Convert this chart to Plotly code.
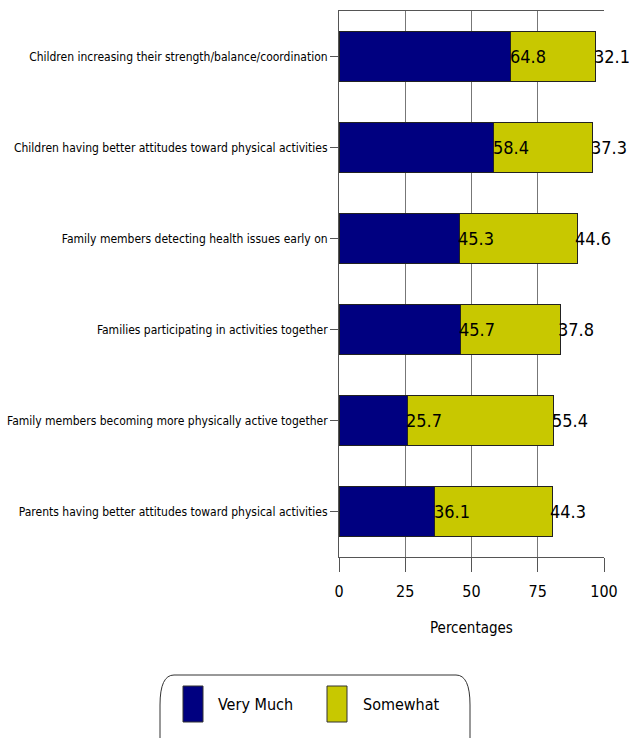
import plotly.graph_objects as go

categories = [
    "Children increasing their strength/balance/coordination",
    "Children having better attitudes toward physical activities",
    "Family members detecting health issues early on",
    "Families participating in activities together",
    "Family members becoming more physically active together",
    "Parents having better attitudes toward physical activities",
]
very_much = [64.8, 58.4, 45.3, 45.7, 25.7, 36.1]
somewhat = [32.1, 37.3, 44.6, 37.8, 55.4, 44.3]
series_names = ["Very Much", "Somewhat"]
x_ticks = [0, 25, 50, 75, 100]
x_title = "Percentages"

NAVY = "#000080"
OLIVE = "#C8C800"
FONT = "DejaVu Sans Condensed, Liberation Sans Narrow, sans-serif"

W, H = 629, 738
# plot area in page pixels
L, R, T, B = 339, 604, 11, 557


def px(x):
    return (x - L) / (R - L)


def py(y):
    return (B - y) / (B - T)


fig = go.Figure()
fig.add_trace(go.Bar(y=categories, x=very_much, orientation="h", name=series_names[0],
                     marker=dict(color=NAVY, line=dict(color="#222222", width=1)),
                     showlegend=False, hoverinfo="x+y"))
fig.add_trace(go.Bar(y=categories, x=somewhat, orientation="h", name=series_names[1],
                     marker=dict(color=OLIVE, line=dict(color="#222222", width=1)),
                     showlegend=False, hoverinfo="x+y"))

annotations = []
for c, v, s in zip(categories, very_much, somewhat):
    annotations.append(dict(x=v, y=c, xref="x", yref="y", text=f"{v:.1f}", showarrow=False,
                            xanchor="left", yanchor="middle", xshift=-3,
                            font=dict(family=FONT, size=18, color="black")))
    annotations.append(dict(x=v + s, y=c, xref="x", yref="y", text=f"{s:.1f}", showarrow=False,
                            xanchor="left", yanchor="middle", xshift=-4,
                            font=dict(family=FONT, size=18, color="black")))

# axis title
annotations.append(dict(x=0.5, y=py(628), xref="paper", yref="paper", text=x_title, showarrow=False,
                        xanchor="center", yanchor="middle",
                        font=dict(family=FONT, size=15, color="black")))

# custom legend
shapes = []
leg_items = [(183, 203, NAVY, 216, series_names[0]), (327, 347, OLIVE, 361, series_names[1])]
for x0, x1, col, tx, name in leg_items:
    shapes.append(dict(type="rect", xref="paper", yref="paper",
                       x0=px(x0), x1=px(x1), y0=py(722), y1=py(686),
                       fillcolor=col, line=dict(color="#333333", width=1)))
    annotations.append(dict(x=px(tx), y=py(704), xref="paper", yref="paper", text=name,
                            showarrow=False, xanchor="left", yanchor="middle",
                            font=dict(family=FONT, size=16, color="black")))

# rounded legend border
lx0, lx1, ly0, ly1 = 160, 470, 675, 760
r = 14
path = (f"M {px(lx0 + r)},{py(ly0)} L {px(lx1 - r)},{py(ly0)} "
        f"Q {px(lx1)},{py(ly0)} {px(lx1)},{py(ly0 + 30)} "
        f"L {px(lx1)},{py(ly1)} "
        f"M {px(lx0)},{py(ly1)} L {px(lx0)},{py(ly0 + 30)} "
        f"Q {px(lx0)},{py(ly0)} {px(lx0 + r)},{py(ly0)}")
shapes.append(dict(type="path", xref="paper", yref="paper", path=path,
                   line=dict(color="#333333", width=1)))

fig.update_layout(
    barmode="stack",
    bargap=0.45,
    width=W, height=H,
    margin=dict(l=L, r=W - R, t=T, b=H - B, autoexpand=False),
    plot_bgcolor="white", paper_bgcolor="white",
    font=dict(family=FONT, color="black"),
    annotations=annotations,
    shapes=shapes,
    showlegend=False,
    xaxis=dict(range=[0, 100], tickvals=x_ticks, ticktext=[str(t) for t in x_ticks],
               showgrid=True, gridcolor="#777777", gridwidth=1,
               showline=True, linecolor="#555555", linewidth=1, mirror=True,
               ticks="outside", ticklen=14, tickcolor="#555555",
               ticklabelstandoff=6,
               tickfont=dict(family=FONT, size=16, color="black"),
               zeroline=False, fixedrange=True, automargin=False),
    yaxis=dict(autorange="reversed", showline=True, linecolor="#555555", linewidth=1,
               ticks="outside", ticklen=8, tickcolor="#555555",
               tickfont=dict(family=FONT, size=12, color="black"),
               showgrid=False, fixedrange=True, automargin=False),
)

fig.write_html(
    "out.html",
    config={"displayModeBar": False},
    post_script="document.body.style.margin='0';document.body.style.overflow='hidden';",
)
